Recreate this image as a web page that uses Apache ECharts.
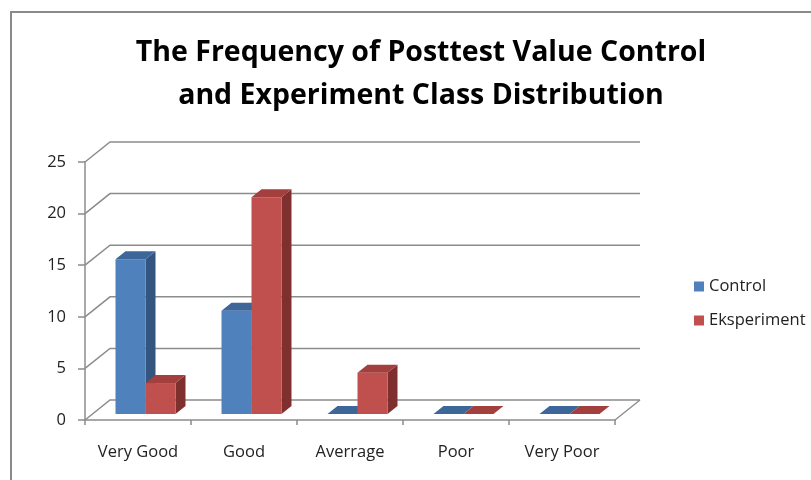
<!DOCTYPE html>
<html>
<head>
<meta charset="utf-8">
<script src="https://cdn.jsdelivr.net/npm/echarts@6/dist/echarts.min.js"></script>
<style>html,body{margin:0;padding:0;background:#fff}#c{width:811px;height:480px}</style>
</head>
<body>
<div id="c"></div>
<script>
var categories = ['Very Good', 'Good', 'Averrage', 'Poor', 'Very Poor'];
var controlValues = [15, 10, 0, 0, 0];
var eksperimentValues = [3, 21, 4, 0, 0];
var yTicks = [0, 5, 10, 15, 20, 25];
var seriesNames = ['Control', 'Eksperiment'];

var DX = 25, DY = -20;          // depth of the 3D floor
var F0 = 0.3, FD = 0.4;         // bar depth start and depth fraction
var FONT = 'Open Sans';
var palette = [
  { front: '#4F81BD', top: '#3D6699', side: '#33557F' },
  { front: '#C0504D', top: '#A33F3C', side: '#7F302E' }
];

function wallItem(params, api) {
  var cs = params.coordSys;
  var v = api.value(0);
  var y = api.coord([0, v])[1];
  var gx = cs.x, gw = cs.width;
  var style = { stroke: '#8C8C8C', lineWidth: 1.5, fill: null };
  var children = [
    { type: 'polyline', shape: { points: [[gx, y], [gx + DX, y + DY], [gx + gw + DX, y + DY]] }, style: style }
  ];
  if (v === 0) {
    children.push({ type: 'line', shape: { x1: gx + gw, y1: y, x2: gx + gw + DX, y2: y + DY }, style: style });
  }
  return { type: 'group', children: children };
}

function barRender(si) {
  return function (params, api) {
    var cat = api.value(0), val = api.value(1);
    var base = api.coord([cat, 0]);
    var top = api.coord([cat, val]);
    var band = api.size([1, 0])[0];
    var bw = band * 0.283;
    var ox = DX * F0, oy = DY * F0;
    var dx = DX * FD, dy = DY * FD;
    var x0 = (si === 0 ? base[0] - bw : base[0]) + ox;
    var x1 = x0 + bw;
    var yb = base[1] + oy, yt = top[1] + oy;
    var c = palette[si];
    var kids = [];
    if (yb - yt > 0.5) {
      kids.push({ type: 'polygon', shape: { points: [[x1, yt], [x1 + dx, yt + dy], [x1 + dx, yb + dy], [x1, yb]] }, style: { fill: c.side } });
      kids.push({ type: 'rect', shape: { x: x0, y: yt, width: bw, height: yb - yt }, style: { fill: c.front } });
    }
    kids.push({ type: 'polygon', shape: { points: [[x0, yt], [x0 + dx, yt + dy], [x1 + dx, yt + dy], [x1, yt]] }, style: { fill: c.top } });
    return { type: 'group', children: kids };
  };
}

var chart = echarts.init(document.getElementById('c'), null, { renderer: 'canvas' });
chart.setOption({
  animation: false,
  backgroundColor: '#fff',
  title: {
    text: 'The Frequency of Posttest Value Control\nand Experiment Class Distribution',
    left: 416, top: 26, textAlign: 'center',
    textStyle: { fontFamily: FONT, fontWeight: 'bold', fontSize: 28.5, lineHeight: 43, color: '#000' }
  },
  legend: {
    orient: 'vertical', left: 689, top: 273, itemGap: 17, itemWidth: 10, itemHeight: 10,
    icon: 'rect',
    textStyle: { fontFamily: FONT, fontSize: 16.5, color: '#222' },
    data: [
      { name: seriesNames[0], itemStyle: { color: palette[0].front } },
      { name: seriesNames[1], itemStyle: { color: palette[1].front } }
    ]
  },
  grid: { left: 85, right: 196, top: 162, bottom: 60 },
  xAxis: {
    type: 'category', data: categories,
    axisLine: { lineStyle: { color: '#8C8C8C', width: 1.5 } },
    axisTick: { show: true, length: 5, lineStyle: { color: '#8C8C8C', width: 1.5 } },
    axisLabel: { margin: 24, fontFamily: FONT, fontSize: 16.5, color: '#222' },
    splitLine: { show: false }
  },
  yAxis: {
    type: 'value', min: 0, max: 25, interval: 5,
    axisLine: { show: true, lineStyle: { color: '#8C8C8C', width: 1.5 } },
    axisTick: { show: true, length: 7, lineStyle: { color: '#8C8C8C', width: 1.5 } },
    axisLabel: { margin: 19, fontFamily: FONT, fontSize: 16.5, color: '#222' },
    splitLine: { show: false }
  },
  graphic: [
    { type: 'polyline', shape: { points: [[11, 480], [11, 12], [811, 12]] }, style: { stroke: '#8a8a8a', lineWidth: 2, fill: null }, silent: true }
  ],
  series: [
    { type: 'custom', name: 'walls', renderItem: wallItem, data: yTicks.map(function (v) { return [v]; }), encode: { y: 0 }, z: 1, silent: true },
    { type: 'custom', name: seriesNames[0], renderItem: barRender(0), itemStyle: { color: palette[0].front },
      data: controlValues.map(function (v, i) { return [i, v]; }), encode: { x: 0, y: 1 }, z: 2 },
    { type: 'custom', name: seriesNames[1], renderItem: barRender(1), itemStyle: { color: palette[1].front },
      data: eksperimentValues.map(function (v, i) { return [i, v]; }), encode: { x: 0, y: 1 }, z: 3 }
  ]
});
</script>
</body>
</html>
